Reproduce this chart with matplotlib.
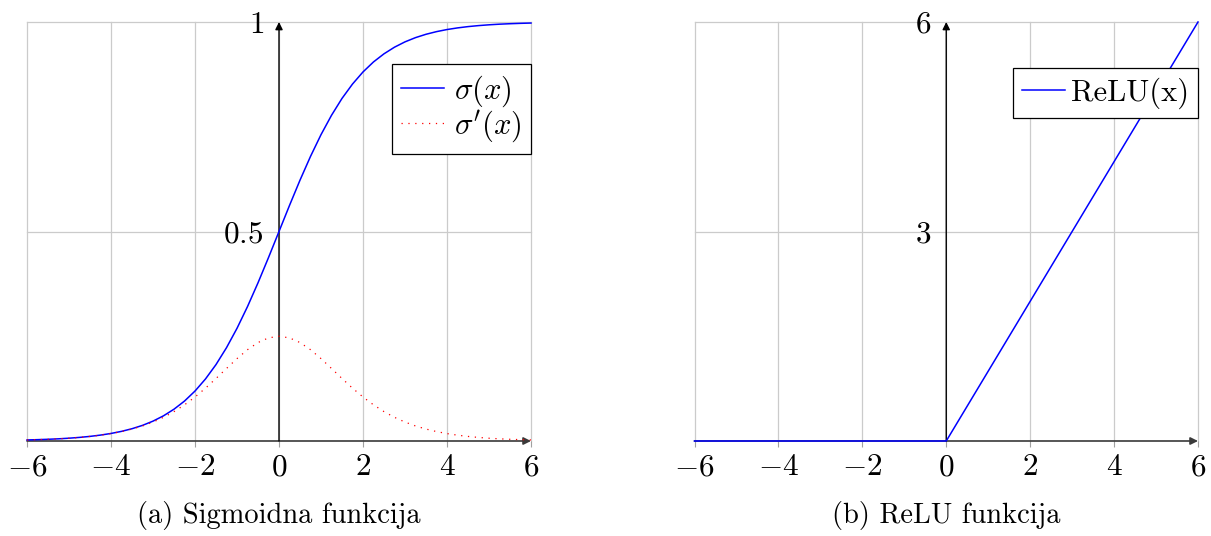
import matplotlib
matplotlib.use("Agg")
import matplotlib.pyplot as plt

plt.rcParams['mathtext.fontset'] = 'cm'
plt.rcParams['font.family'] = 'serif'
plt.rcParams['font.serif'] = ['cmr10']
plt.rcParams['axes.unicode_minus'] = False

# ---- data ----
x_sig = [-6.0, -5.75, -5.5, -5.25, -5.0, -4.75, -4.5, -4.25, -4.0, -3.75, -3.5, -3.25,
         -3.0, -2.75, -2.5, -2.25, -2.0, -1.75, -1.5, -1.25, -1.0, -0.75, -0.5, -0.25,
         0.0, 0.25, 0.5, 0.75, 1.0, 1.25, 1.5, 1.75, 2.0, 2.25, 2.5, 2.75,
         3.0, 3.25, 3.5, 3.75, 4.0, 4.25, 4.5, 4.75, 5.0, 5.25, 5.5, 5.75, 6.0]
sigma = [0.0025, 0.0032, 0.0041, 0.0052, 0.0067, 0.0086, 0.0110, 0.0141, 0.0180, 0.0230,
         0.0293, 0.0373, 0.0474, 0.0601, 0.0759, 0.0953, 0.1192, 0.1481, 0.1824, 0.2227,
         0.2689, 0.3208, 0.3775, 0.4378, 0.5000, 0.5622, 0.6225, 0.6792, 0.7311, 0.7773,
         0.8176, 0.8519, 0.8808, 0.9047, 0.9241, 0.9399, 0.9526, 0.9627, 0.9707, 0.9770,
         0.9820, 0.9859, 0.9890, 0.9914, 0.9933, 0.9948, 0.9959, 0.9968, 0.9975]
sigma_deriv = [0.0025, 0.0032, 0.0041, 0.0052, 0.0066, 0.0085, 0.0109, 0.0139, 0.0177, 0.0225,
               0.0285, 0.0359, 0.0452, 0.0565, 0.0701, 0.0863, 0.1050, 0.1261, 0.1492, 0.1731,
               0.1966, 0.2179, 0.2350, 0.2461, 0.2500, 0.2461, 0.2350, 0.2179, 0.1966, 0.1731,
               0.1492, 0.1261, 0.1050, 0.0863, 0.0701, 0.0565, 0.0452, 0.0359, 0.0285, 0.0225,
               0.0177, 0.0139, 0.0109, 0.0085, 0.0066, 0.0052, 0.0041, 0.0032, 0.0025]
x_relu = [-6, 0, 6]
relu = [0, 0, 6]

x_ticks = [-6, -4, -2, 0, 2, 4, 6]
x_tick_labels = ['$-6$', '$-4$', '$-2$', '$0$', '$2$', '$4$', '$6$']
sig_yticks = [0.5, 1]
sig_ytick_labels = ['$0.5$', '$1$']
relu_yticks = [3, 6]
relu_ytick_labels = ['$3$', '$6$']
captions = ['(a) Sigmoidna funkcija', '(b) ReLU funkcija']

W, H = 1211, 536
fig = plt.figure(figsize=(W / 100, H / 100), dpi=100)

def px_axes(x0, x1, ytop, ybot):
    return fig.add_axes([x0 / W, 1 - ybot / H, (x1 - x0) / W, (ybot - ytop) / H])

ax1 = px_axes(27, 531, 22, 441)
ax2 = px_axes(694.5, 1198, 22, 441)

GRID = '#cbcbcb'

def style(ax, ymax, yticks, ylabels):
    ax.set_xlim(-6, 6)
    ax.set_ylim(0, ymax)
    for s in ['top', 'right', 'bottom']:
        ax.spines[s].set_visible(False)
    ax.spines['left'].set_position(('data', 0))
    ax.spines['left'].set_visible(False)
    ax.set_xticks(x_ticks)
    ax.set_xticklabels(x_tick_labels, fontsize=22.5)
    ax.set_yticks(yticks)
    ax.set_yticklabels(ylabels, fontsize=22.5)
    ax.tick_params(axis='x', direction='out', length=4, width=0.8, color='#a0a0a0', pad=5)
    ax.tick_params(axis='y', direction='inout', length=0, pad=11)
    ax.grid(True, color=GRID, lw=0.9)
    ax.set_axisbelow(True)
    for gl in ax.get_xgridlines() + ax.get_ygridlines():
        gl.set_clip_on(False)
    ax.axhline(0, color=GRID, lw=0.9, zorder=0)
    # axis lines with arrows
    ax.annotate('', xy=(6, 0), xytext=(-6, 0), xycoords='data',
                arrowprops=dict(arrowstyle='-|>', color='#3a3a3a', lw=1.2,
                                mutation_scale=11, shrinkA=0, shrinkB=0),
                annotation_clip=False, zorder=1)
    ax.annotate('', xy=(0, ymax), xytext=(0, 0), xycoords='data',
                arrowprops=dict(arrowstyle='-|>', color='black', lw=1.0,
                                mutation_scale=11, shrinkA=0, shrinkB=0),
                annotation_clip=False, zorder=1)

style(ax1, 1, sig_yticks, sig_ytick_labels)
style(ax2, 6, relu_yticks, relu_ytick_labels)

ax1.plot(x_sig, sigma, color='#0000ff', lw=1.1, label=r'$\sigma(x)$', zorder=3, clip_on=False)
ax1.plot(x_sig, sigma_deriv, color='#ff0000', lw=0.9, linestyle=(0, (1, 4.5)),
         label=r"$\sigma'(x)$", zorder=3, clip_on=False)
ax2.plot(x_relu, relu, color='#0000ff', lw=1.1, label='ReLU(x)', zorder=3, clip_on=False)

for ax, top, tpad, lsp in [(ax1, 0.90, 0.33, 0.0), (ax2, 0.89, 0.2, 0.2)]:
    leg = ax.legend(loc='upper right', bbox_to_anchor=(1.0, top), borderaxespad=0,
                    fontsize=22, fancybox=False, framealpha=1, edgecolor='black',
                    handlelength=1.4, handletextpad=tpad, borderpad=0.3, labelspacing=lsp)
    leg.get_frame().set_linewidth(0.9)
    leg.set_zorder(5)

fig.text((27 + 531) / 2 / W, 1 - 515 / H, captions[0], fontsize=20.5, ha='center', va='center')
fig.text((694.5 + 1198) / 2 / W, 1 - 515 / H, captions[1], fontsize=20.5, ha='center', va='center')

fig.savefig('out.png', dpi=100)
